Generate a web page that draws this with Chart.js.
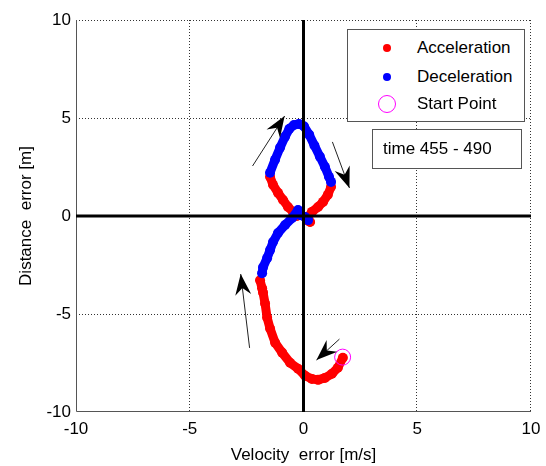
<!DOCTYPE html>
<html>
<head>
<meta charset="utf-8">
<script src="https://cdn.jsdelivr.net/npm/chart.js@4.4.1/dist/chart.umd.min.js"></script>
<style>
    body { margin: 0; background: #fff; }
    #wrap { position: relative; width: 546px; height: 466px; }
    .box {
        position: absolute;
        box-sizing: border-box;
        background: #fff;
        border: 1px solid #555;
        font-family: "Liberation Sans", Arial, sans-serif;
        font-size: 17px;
        color: #000;
    }
    .row { position: absolute; left: 0; right: 0; height: 20px; line-height: 20px; }
    .row span { position: absolute; left: 69px; }
    .sym { position: absolute; box-sizing: border-box; border-radius: 50%; }
</style>
</head>
<body>
<div id="wrap">
    <canvas id="phase" width="546" height="466"></canvas>

    <!-- legend box (top right, inside the plot) -->
    <div class="box" style="left:347px; top:29px; width:178px; height:93px;">
        <div class="row" style="top:8px;">
            <div class="sym" style="left:35px; top:6px; width:8px; height:8px; background:#ff0000;"></div>
            <span>Acceleration</span>
        </div>
        <div class="row" style="top:37px;">
            <div class="sym" style="left:35px; top:6px; width:8px; height:8px; background:#0000ff;"></div>
            <span>Deceleration</span>
        </div>
        <div class="row" style="top:64px;">
            <div class="sym" style="left:30px; top:1px; width:18px; height:18px; border:1px solid #ff00ff;"></div>
            <span>Start Point</span>
        </div>
    </div>

    <div class="box" style="left:372px; top:129px; width:150px; height:40px; line-height:37px; padding-left:10px;">time 455 - 490</div>
</div>

<script>
// axis setup
const tickValues = [-10, -5, 0, 5, 10];
const gridValues = [-5, 5, 10];

// trajectory, [velocity error, distance error] in time order
const redBottom = [
    [1.73, -7.23], [1.51, -7.74], [1.25, -8.05], [0.94, -8.26], [0.64, -8.36],
    [0.37, -8.31], [0.07, -8.15], [-0.24, -7.79], [-0.59, -7.49], [-0.94, -6.97],
    [-1.25, -6.46], [-1.47, -5.74], [-1.60, -5.18], [-1.69, -4.46], [-1.78, -3.90],
    [-1.82, -3.69], [-1.91, -3.28]
];
const blueLower = [
    [-1.82, -2.92], [-1.78, -2.62], [-1.60, -2.15], [-1.47, -1.74], [-1.34, -1.33],
    [-1.12, -0.87], [-0.81, -0.46], [-0.50, -0.10], [-0.24, 0.31], [-0.15, 0.05],
    [0.07, -0.05], [0.20, -0.21]
];
const redLeft = [
    [-0.29, 0.00], [-0.46, 0.21], [-0.68, 0.46], [-0.90, 0.82], [-1.12, 1.18],
    [-1.34, 1.59], [-1.47, 2.00]
];
const blueTop = [
    [-1.47, 2.21], [-1.25, 2.87], [-1.03, 3.49], [-0.81, 4.05], [-0.62, 4.45],
    [-0.42, 4.64], [-0.20, 4.70], [0.02, 4.58], [0.25, 4.15], [0.48, 3.60],
    [0.72, 3.03], [0.94, 2.51], [1.12, 2.00], [1.21, 1.74]
];
const redRight = [
    [1.21, 1.49], [1.07, 1.08], [0.86, 0.72], [0.64, 0.46], [0.37, 0.21],
    [0.20, -0.05], [0.15, -0.21], [0.29, -0.31]
];
const startPoint = [[1.72, -7.20]];

// direction arrows: [tailX, tailY, tipX, tipY]
const arrows = [
    [-2.24, 2.55, -0.83, 5.10],
    [1.27, 3.78, 2.02, 1.43],
    [-2.37, -6.73, -2.76, -2.96],
    [1.58, -6.28, 0.57, -7.35]
];

const toXY = arr => arr.map(p => ({ x: p[0], y: p[1] }));

function track(data, color) {
    return {
        data: toXY(data),
        showLine: true,
        borderColor: color,
        backgroundColor: color,
        borderWidth: 9,
        borderCapStyle: 'round',
        borderJoinStyle: 'round',
        pointRadius: 5,
        pointBorderWidth: 0,
        order: color === '#0000ff' ? 1 : 2
    };
}

// dotted grid, borders, zero lines and arrows
const decorations = {
    id: 'decorations',
    beforeDatasetsDraw(chart) {
        const { ctx, chartArea: a, scales: { x, y } } = chart;
        ctx.save();
        ctx.lineWidth = 1;
        ctx.strokeStyle = '#333';
        ctx.setLineDash([1, 2]);
        gridValues.forEach(v => {
            const px = Math.round(x.getPixelForValue(v)) - 0.5;
            const py = Math.round(y.getPixelForValue(v)) + 0.5;
            ctx.beginPath(); ctx.moveTo(px, a.top); ctx.lineTo(px, a.bottom); ctx.stroke();
            ctx.beginPath(); ctx.moveTo(a.left, py); ctx.lineTo(a.right, py); ctx.stroke();
        });
        ctx.setLineDash([]);
        ctx.strokeStyle = '#555';
        const l = Math.round(x.getPixelForValue(-10)) + 0.5;
        const b = Math.round(y.getPixelForValue(-10)) - 0.5;
        ctx.beginPath();
        ctx.moveTo(l, a.top); ctx.lineTo(l, b); ctx.lineTo(a.right, b);
        ctx.stroke();
        ctx.restore();
    },
    afterDatasetsDraw(chart) {
        const { ctx, chartArea: a, scales: { x, y } } = chart;
        ctx.save();
        ctx.strokeStyle = '#000';
        ctx.lineWidth = 3;
        const x0 = x.getPixelForValue(0), y0 = y.getPixelForValue(0);
        ctx.beginPath(); ctx.moveTo(x0, a.top); ctx.lineTo(x0, a.bottom); ctx.stroke();
        ctx.beginPath(); ctx.moveTo(a.left, y0); ctx.lineTo(a.right, y0); ctx.stroke();

        arrows.forEach(ar => {
            const x1 = x.getPixelForValue(ar[0]), y1 = y.getPixelForValue(ar[1]);
            const x2 = x.getPixelForValue(ar[2]), y2 = y.getPixelForValue(ar[3]);
            const ang = Math.atan2(y2 - y1, x2 - x1);
            ctx.lineWidth = 1;
            ctx.strokeStyle = '#222';
            ctx.beginPath(); ctx.moveTo(x1, y1); ctx.lineTo(x2, y2); ctx.stroke();
            // stealth style head
            ctx.translate(x2, y2);
            ctx.rotate(ang);
            ctx.fillStyle = '#000';
            ctx.beginPath();
            ctx.moveTo(0, 0);
            ctx.lineTo(-21, -8);
            ctx.lineTo(-14, 0);
            ctx.lineTo(-21, 8);
            ctx.closePath();
            ctx.fill();
            ctx.setTransform(1, 0, 0, 1, 0, 0);
        });
        ctx.restore();
    }
};

const tickFont = { family: '"Liberation Sans", Arial, sans-serif', size: 17 };

new Chart(document.getElementById('phase'), {
    type: 'scatter',
    data: {
        datasets: [
            track(redBottom, '#ff0000'),
            track(redLeft, '#ff0000'),
            track(redRight, '#ff0000'),
            track(blueLower, '#0000ff'),
            track(blueTop, '#0000ff'),
            {
                data: toXY(startPoint),
                pointRadius: 8,
                pointBorderWidth: 1,
                pointBorderColor: '#ff00ff',
                pointBackgroundColor: 'rgba(0,0,0,0)',
                order: 0
            }
        ]
    },
    options: {
        responsive: false,
        animation: false,
        layout: { autoPadding: false, padding: { top: 20, right: 15, left: 0, bottom: 0 } },
        plugins: { legend: { display: false }, tooltip: { enabled: false } },
        scales: {
            x: {
                min: -10, max: 10,
                afterBuildTicks: s => { s.ticks = tickValues.map(v => ({ value: v })); },
                afterFit: s => { s.height = 54; s.paddingLeft = 0; s.paddingRight = 0; },
                grid: { display: false, drawTicks: false },
                border: { display: false },
                ticks: { color: '#000', font: tickFont, padding: 7, maxRotation: 0 },
                title: { display: true, text: 'Velocity  error [m/s]', color: '#000', font: tickFont, padding: 0 }
            },
            y: {
                min: -10, max: 10,
                afterBuildTicks: s => { s.ticks = tickValues.map(v => ({ value: v })); },
                afterFit: s => { s.width = 76; s.paddingTop = 0; s.paddingBottom = 0; },
                grid: { display: false, drawTicks: false },
                border: { display: false },
                ticks: { color: '#000', font: tickFont, padding: 5 },
                title: { display: true, text: 'Distance  error [m]', color: '#000', font: tickFont, padding: { top: 16, bottom: 0 } }
            }
        }
    },
    plugins: [decorations]
});
</script>
</body>
</html>
